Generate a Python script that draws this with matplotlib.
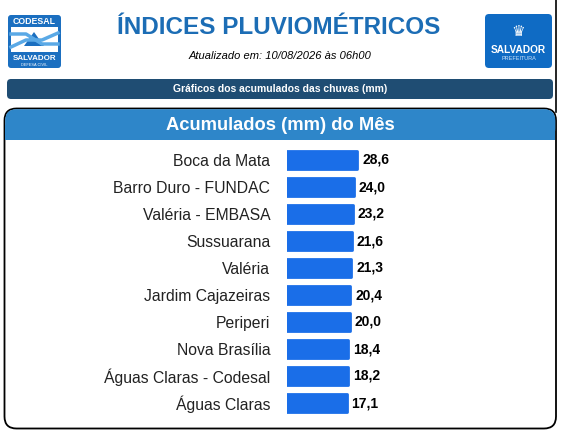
import matplotlib.pyplot as plt
from matplotlib.patches import FancyBboxPatch, Rectangle
import numpy as np

# data
estacoes = ["Boca da Mata", "Barro Duro - FUNDAC", "Valéria - EMBASA", "Sussuarana",
            "Valéria", "Jardim Cajazeiras", "Periperi", "Nova Brasília",
            "Águas Claras - Codesal", "Águas Claras"]
acumulados = [28.6, 24.0, 23.2, 21.6, 21.3, 20.4, 20.0, 18.4, 18.2, 17.1]
titulo = "ÍNDICES PLUVIOMÉTRICOS"
atualizado = "Atualizado em: 10/08/2026 às 06h00"
faixa = "Gráficos dos acumulados das chuvas (mm)"
cabecalho = "Acumulados (mm) do Mês"

plt.rcParams['font.family'] = ['Liberation Sans', 'DejaVu Sans']

W, H = 565, 433
fig = plt.figure(figsize=(W / 100, H / 100), dpi=100)

# overlay in pixel coords for the page decoration
bg = fig.add_axes([0, 0, 1, 1])
bg.set_xlim(0, W)
bg.set_ylim(H, 0)
bg.axis('off')

# left logo (CODESAL)
bg.add_patch(FancyBboxPatch((8, 15), 53, 53, boxstyle="round,pad=0,rounding_size=3",
                            fc="#1b6fc0", ec="none"))
bg.add_patch(Rectangle((11, 27), 47, 25, fc="white", ec="none"))
bg.add_patch(plt.Polygon([[24, 46], [34, 32], [44, 46]], fc="#1b6fc0", ec="none"))
bg.plot([11, 26, 42, 58], [34, 34, 44, 44], color="#5aa9e6", lw=2.5)
bg.plot([11, 26, 42, 58], [47, 40, 40, 33], color="#5aa9e6", lw=2.5)
bg.text(34.5, 22, "CODESAL", color="white", fontsize=6.3, fontweight="bold", ha="center", va="center")
bg.text(34.5, 58, "SALVADOR", color="white", fontsize=5.8, fontweight="bold", ha="center", va="center")
bg.text(34.5, 64.5, "DEFESA CIVIL", color="white", fontsize=2.8, ha="center", va="center")

# right logo (Prefeitura)
bg.add_patch(FancyBboxPatch((485, 14), 67, 54, boxstyle="round,pad=0,rounding_size=4",
                            fc="#0f6bc4", ec="none"))
bg.text(518.5, 32, "♛", color="white", fontsize=11, ha="center", va="center",
        family=['DejaVu Sans'])
bg.text(518.5, 50, "SALVADOR", color="white", fontsize=7.3, fontweight="bold", ha="center", va="center")
bg.text(518.5, 59, "PREFEITURA", color="#cfe3f7", fontsize=4, ha="center", va="center")

# vertical line at the right edge
bg.plot([556, 556], [0, 112], color="black", lw=1.2)

# titles
bg.text(279, 28, titulo, color="#1c6db5", fontsize=17.5,
        fontweight="bold", ha="center", va="center")
bg.text(280, 56, atualizado, color="black", fontsize=8, style="italic", ha="center", va="center")

# navy strip
bg.add_patch(FancyBboxPatch((7, 79), 546, 20, boxstyle="round,pad=0,rounding_size=4",
                            fc="#1f4d73", ec="none"))
bg.text(280, 89.5, faixa, color="white", fontsize=7.5, fontweight="bold", ha="center", va="center")

# panel with header
bg.add_patch(FancyBboxPatch((4.5, 108.5), 551.5, 320, boxstyle="round,pad=0,rounding_size=12",
                            fc="white", ec="black", lw=1.3))
bg.add_patch(FancyBboxPatch((5.2, 109.2), 550.1, 30, boxstyle="round,pad=0,rounding_size=11",
                            fc="#2e86c9", ec="none"))
bg.add_patch(Rectangle((5.2, 125), 550.1, 14.5, fc="#2e86c9", ec="none"))
bg.text(280, 125, cabecalho, color="white", fontsize=13.2, fontweight="bold", ha="center", va="center")

# bar chart (log scale starting at 1, ~21 px per e-fold)
x0, px_per_ln = 287, 21.0
ax_w = 200
ax = fig.add_axes([x0 / W, (H - 416.5) / H, ax_w / W, 270 / H])
ax.set_xscale("log")
ax.set_xlim(1, np.exp(ax_w / px_per_ln))
ax.set_ylim(len(estacoes) - 0.5, -0.5)
y = np.arange(len(estacoes))
ax.barh(y, acumulados, height=0.68, color="#1a6ee8", edgecolor="#1a6ee8",
        linewidth=2, joinstyle="round")
for yi, v in zip(y, acumulados):
    ax.annotate(f"{v:.1f}".replace(".", ","), (v, yi), xytext=(3.5, 0),
                textcoords="offset points", fontsize=10, fontweight="bold",
                va="center", ha="left", color="black")
ax.set_yticks(y)
ax.set_yticklabels(estacoes, fontsize=11.3, color="#222222")
ax.tick_params(axis="y", length=0, pad=12)
ax.set_xticks([])
ax.set_xticks([], minor=True)
for s in ax.spines.values():
    s.set_visible(False)
ax.patch.set_alpha(0)

fig.savefig("out.png", dpi=100)
